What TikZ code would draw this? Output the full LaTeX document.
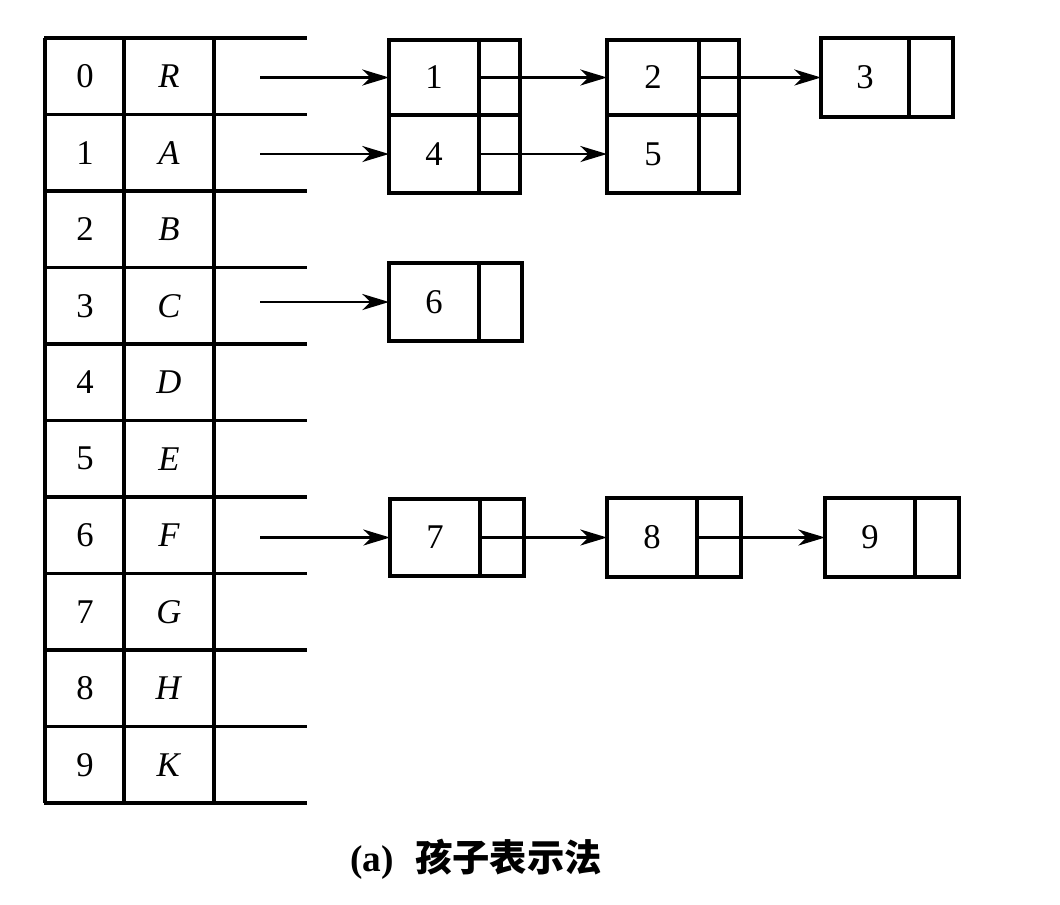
\documentclass[tikz,border=0pt]{standalone}
\usepackage{fontspec}
\setmainfont{Liberation Serif}
\newfontfamily\cjk{Noto Sans CJK SC}
\usetikzlibrary{arrows.meta}
\tikzset{
  tline/.style={line width=2.6pt},
  cell/.style={draw, line width=2.4pt, inner sep=0pt, outer sep=0pt, font=\fontsize{26}{29}\selectfont},
  lbl/.style={inner sep=0pt, font=\fontsize{26}{29}\selectfont},
  arr/.style={line width=2pt, -{Stealth[length=20pt,width=12pt,inset=6pt]}},
}
\newcommand\listnode[7]{%
  \node[cell, minimum width={(#3-#2)*0.75pt}, minimum height={(#6-#5)*0.75pt}] (#1) at ({(#2+#3)/2},{(#5+#6)/2}) {#7};
  \node[cell, minimum width={(#4-#3)*0.75pt}, minimum height={(#6-#5)*0.75pt}] (#1p) at ({(#3+#4)/2},{(#5+#6)/2}) {};
}
\begin{document}
\begin{tikzpicture}[x=0.75pt,y=-0.75pt]
\useasboundingbox (0,0) rectangle (1060,904);
% table
\foreach \k in {0,...,10} {
  \draw[tline] (44,{38+76.5*\k}) -- (307,{38+76.5*\k});
}
\foreach \xx in {45,124,214} {
  \draw[tline] (\xx,38) -- (\xx,803);
}
\foreach \k/\L in {0/R,1/A,2/B,3/C,4/D,5/E,6/F,7/G,8/H,9/K} {
  \node[lbl] (i\k) at (85,{76.25+76.5*\k}) {\k};
  \node[lbl] (l\k) at (169,{76.25+76.5*\k}) {\textit{\L}};
}
% list nodes
\listnode{b1}{389}{479}{520}{40}{115}{1}
\listnode{b4}{389}{479}{520}{115}{193}{4}
\listnode{b2}{607}{699}{739}{40}{115}{2}
\listnode{b5}{607}{699}{739}{115}{193}{5}
\listnode{b3}{821}{909}{953}{38}{117}{3}
\listnode{b6}{389}{479}{522}{263}{341}{6}
\listnode{b7}{390}{480}{524}{499}{576}{7}
\listnode{b8}{607}{697}{741}{498}{577}{8}
\listnode{b9}{825}{915}{959}{498}{577}{9}
% starting points in the table
\coordinate (s0) at (260,77.5);
\coordinate (s1) at (260,154);
\coordinate (s3) at (260,302);
\coordinate (s6) at (260,537.5);
\draw[arr] (s0) -- (b1.west);
\draw[arr] (s1) -- (b4.west);
\draw[arr] (s3) -- (b6.west);
\draw[arr] (s6) -- (b7.west);
% pointer arrows
\draw[arr] (b1.east) -- (b2.west);
\draw[arr] (b2.east) -- (b3.west);
\draw[arr] (b4.east) -- (b5.west);
\draw[arr] (b7.east) -- (b8.west);
\draw[arr] (b8.east) -- (b9.west);
% caption
\node[inner sep=0pt, font=\fontsize{28}{31}\selectfont\bfseries] (cap) at (476,859) {(a)\hspace{16pt}{\cjk\bfseries 孩子表示法}};
\end{tikzpicture}
\end{document}
